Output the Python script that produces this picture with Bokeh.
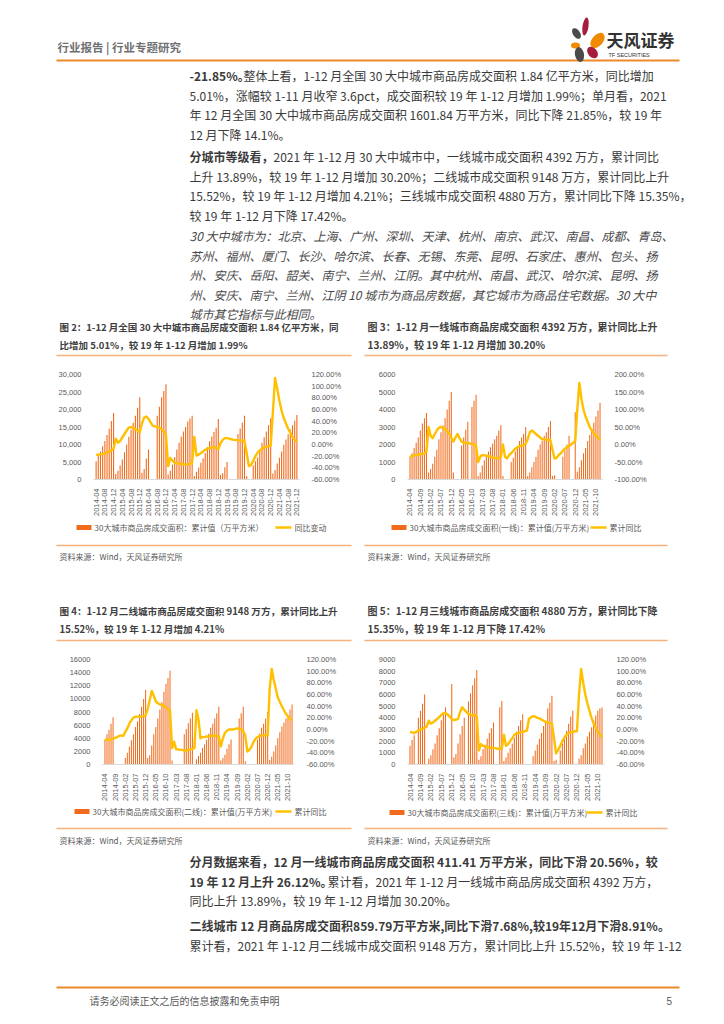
import math
from bokeh.plotting import figure
from bokeh.layouts import column, row
from bokeh.models import (Range1d, LinearAxis, FixedTicker, NumeralTickFormatter, CustomJSTickFormatter)
from bokeh.core.properties import value
from bokeh.embed import file_html
from bokeh.resources import INLINE

CJK = "Noto Sans CJK SC"
LAT = "Liberation Sans"

# ---------------- data ----------------
MONTHS = [f"{y}-{m:02d}" for y in range(2014, 2022) for m in range(1, 13)][3:]  # 2014-04 .. 2021-12

TICKS_4 = ["2014-04", "2014-08", "2014-12", "2015-04", "2015-08", "2015-12", "2016-04", "2016-08",
           "2016-12", "2017-04", "2017-08", "2017-12", "2018-04", "2018-08", "2018-12", "2019-04",
           "2019-08", "2019-12", "2020-04", "2020-08", "2020-12", "2021-04", "2021-08", "2021-12"]
TICKS_5 = ["2014-04", "2014-09", "2015-02", "2015-07", "2015-12", "2016-05", "2016-10", "2017-03",
           "2017-08", "2018-01", "2018-06", "2018-11", "2019-04", "2019-09", "2020-02", "2020-07",
           "2020-12", "2021-05", "2021-10"]

# Chart 2: 30 cities, cumulative area (万平方米) and YoY (%)
c2_bars = [
    [5200, 7000, 8000, 9500, 11000, 12700, 14500, 16700, 19000],
    [1600, 2500, 4000, 5700, 7800, 10000, 12200, 14200, 16200, 18200, 20500, 23500],
    [1900, 3000, 6000, 8600, None, None, None, 18200, 20800, 23500, 25300, 27200],
    [1400, 2500, 4300, 6400, 8600, 10500, 12200, 13700, 15000, 16600, 17400, 18200],
    [1000, 2200, 3400, 4800, 6100, 7600, 9300, 10900, 12300, 13600, 14800, 17300],
    [1300, 1800, 3500, 5000, None, None, None, None, 13000, 14600, 16200, 18200],
    [1000, None, None, 4000, 5200, 6300, 8600, 10500, 12100, 13700, 15500, 17500],
    [1700, 2700, 4600, 6200, 8000, 9900, 11400, 12900, 14300, 15500, 16800, 18400],
]
c2_yoy = [
    [-18, -17.5, -17, -16.5, -15.5, -14, -12, -10, -7],
    [10, 3, 6, 12, 18, 24, 29, 30, 28, 26, 24, 21],
    [36, 46, 48, 44, 38, 32, 31, 30, 29, 26, 22, 17],
    [-37, -23, -28, -31, -32, -33, -33, -34, -34, -35, -33, -31],
    [13, -19, -17, -15, -12, -9, -7, -6, -5, -4, -6, -8],
    [2, 8, 11, 11, 10, 9, 8, 8, 7, 7, 7, 6],
    [-15, -37, -35, -28, -20, -14, -10, -7, -5, -4, -3, -2],
    [55, 114, 95, 75, 58, 45, 36, 27, 20, 13, 8, 5],
]
# Chart 3: tier-1 cities
c3_bars = [
    [1300, 1500, 1800, 2100, 2400, 2800, 3200, 3500, 3800],
    [400, 600, 900, 1300, 1700, 2300, 2700, 3100, 3500, 4000, 4500, 5000],
    [400, None, None, None, 1950, 2400, 2850, 3300, None, 4150, 4500, 4850],
    [200, 400, 800, 1100, 1300, 1600, 1850, 2050, 2300, 2500, 2800, 3100],
    [200, None, None, None, 1000, 1250, 1600, 1900, 2200, 2400, 2600, 3000],
    [200, 400, 700, 1000, 1300, 1700, 2000, 2200, 2500, 2700, 3000, 3350],
    [200, 250, None, None, None, 1300, 1650, 2000, 2500, None, None, 3850],
    [450, 700, 1100, 1500, 1800, 2200, 2550, 2900, 3250, 3600, 3950, 4392],
]
c3_yoy = [
    [-35, -33, -31, -30, -29, -28, -27, -26, -20],
    [50, 25, 18, 30, 40, 48, 50, 47, 44, 38, 30, 20],
    [8, 20, 30, 18, 8, 5, 5, 4, 3, 2, 0, -5],
    [-50, -35, -30, -31, -32, -33, -35, -37, -38, -40, -38, -35],
    [0, -35, -40, -30, -25, -18, -12, -8, -5, -3, -2, 2],
    [15, 35, 40, 35, 30, 25, 20, 15, 15, 14, 13, 12],
    [-15, -40, -38, -30, -25, -18, -12, -8, -5, 0, 5, 10],
    [100, 176, 130, 100, 80, 65, 50, 40, 32, 25, 20, 14],
]
# Chart 4: tier-2 cities
c4_bars = [
    [3800, 4600, 5300, 6200, 7200, None, None, None, None],
    [None, 1000, 1800, 2700, 3700, 4600, 5700, 6600, 7700, 8800, 10000, 11400],
    [1000, 1400, 2900, 4600, 5700, 7000, 8400, 9500, 11100, 12300, 13200, 14300],
    [600, None, None, None, None, None, 4600, 5400, 6300, 7000, 7900, None],
    [800, 1300, 1800, 2500, 3100, 3800, 4700, 5600, 6200, 7000, 7800, 8800],
    [600, 1000, 1500, 2400, 3100, 3800, None, None, None, 7000, 7800, 8800],
    [500, None, None, None, None, None, 3800, 4700, 5600, 6200, 7000, 8000],
    [700, 1200, 2000, 2900, 4000, 4900, 5800, 6400, 7000, 7500, 8400, 9148],
]
c4_yoy = [
    [-17, -17.5, -18, -17, -15.5, -14.5, -13, -11, -10],
    [-11, -4, 2, 10, 16, 20, 22, 22, 22, 22, 23, 24],
    [35, 50, 66, 58, 48, 45, 43, 42, 41, 38, 35, 33],
    [-32, -21, -34, -34, -35, -35, -36, -36, -35, -34, -33, -32],
    [33, 17, -15, -13, -13, -12, -12, -11, -11, -10, -11, -12],
    [-29, -15, -6, -2, 0, 0, 0, 1, 2, 1, 0, -3],
    [-10, -38, -35, -30, -22, -16, -13, -11, -10, -10, -10, -10],
    [70, 104, 85, 70, 55, 47, 40, 33, 27, 22, 18, 16],
]
# Chart 5: tier-3 cities
c5_bars = [
    [1600, 2100, 2500, None, 4000, 4600, 5200, 6000, None],
    [500, 800, 1300, 1800, 2500, 3100, 3800, 4300, 4900, None, None, 6900],
    [600, 900, 1800, 2600, 3300, 4000, None, 5400, 6100, 6800, 7400, 8100],
    [400, 700, 1300, 1700, 2200, 2700, 3100, 3600, None, None, 4900, 5450],
    [300, 600, 1000, 1400, 1800, 2300, 2800, 3300, 3800, 4300, None, None],
    [None, None, 700, 1200, 1700, 2200, 2700, 3300, 3700, 4800, 5300, 5900],
    [300, 400, None, 1200, 1800, 2300, 2900, 3500, 4100, 4600, None, None],
    [500, 800, 1400, 1800, 2400, 2800, 3200, 3800, 4200, 4600, 4800, 4880],
]
c5_yoy = [
    [-4, -5, -6, -4, -2, 0, 1, 3, 5],
    [15, 10, 12, 15, 18, 21, 25, 28, 28, 26, 22, 18],
    [16, 17, 18, 30, 38, 34, 30, 27, 25, 24, 25, 22],
    [-36, -25, -28, -29, -30, -31, -31, -32, -32, -33, -33, -32],
    [-9, -28, -25, -20, -15, -9, -7, -6, -5, -4, -3, -2],
    [18, 21, 23, 22, 20, 19, 17, 15, 13, 12, 11, 10],
    [-15, -41, -35, -28, -20, -14, -9, -6, -5, -4, -3, -3],
    [60, 104, 80, 60, 45, 32, 20, 10, 3, -4, -9, -13],
]

LEG_BAR = ["30大城市商品房成交面积：累计值（万平方米）",
           "30大城市商品房成交面积(一线)：累计值(万平方米)",
           "30大城市商品房成交面积(二线)：累计值(万平方米)",
           "30大城市商品房成交面积(三线)：累计值(万平方米)"]
LEG_LINE = ["同比变动", "累计同比", "累计同比", "累计同比"]

TITLES = [
    ("图 2：1-12 月全国 30 大中城市商品房成交面积 1.84 亿平方米，同", "比增加 5.01%，较 19 年 1-12 月增加 1.99%"),
    ("图 3：1-12 月一线城市商品房成交面积 4392 万方，累计同比上升", "13.89%，较 19 年 1-12 月增加 30.20%"),
    ("图 4：1-12 月二线城市商品房成交面积 9148 万方，累计同比上升", "15.52%，较 19 年 1-12 月增加 4.21%"),
    ("图 5：1-12 月三线城市商品房成交面积 4880 万方，累计同比下降", "15.35%，较 19 年 1-12 月下降 17.42%"),
]
SOURCE = "资料来源：Wind，天风证券研究所"

# ---------------- styling ----------------
BAR_C = "#F26A1B"
LINE_C = "#FFC000"
RULE_C = "#F6B27C"
HEAD_C = "#EE8A2A"
TXT_C = "#3A3A3A"
AX_C = "#595959"
O = 1  # page origin


def strip(y0, y1):
    p = figure(width=708, height=y1 - y0, x_range=Range1d(O, O + 708), y_range=Range1d(y1, y0),
               min_border=0, toolbar_location=None, output_backend="svg",
               x_axis_location=None, y_axis_location=None, outline_line_color=None)
    p.grid.visible = False
    return p


def txt(p, x, y, s, size="12px", color=TXT_C, style="normal", font=CJK, align="left"):
    p.text(x=[x], y=[y], text=[s], text_font=value(font), text_font_size=size,
           text_color=color, text_font_style=style, text_baseline="middle", text_align=align)


def rule(p, x0, x1, y, color=RULE_C, w=1.5):
    p.line(x=[x0, x1], y=[y, y], line_color=color, line_width=w)


def legend(p, xs, xl, y, lab1, lab2):
    p.rect(x=[xs + 7.5], y=[y], width=15, height=5, fill_color=BAR_C, line_color=None)
    txt(p, xs + 18, y, lab1, size="8px", color=AX_C)
    p.line(x=[xl, xl + 16], y=[y, y], line_color=LINE_C, line_width=2.5)
    txt(p, xl + 19, y, lab2, size="8px", color=AX_C)


def chart(w, h, ml, mr, mt, mb, bars_y, yoy_y, lmax, lstep, lfmt, rmin, rmax, rstep, ticks):
    bars = sum(bars_y, [])
    yoy = sum(yoy_y, [])
    n = len(MONTHS)
    bx = [i for i, v in enumerate(bars) if v is not None]
    bt = [v for v in bars if v is not None]
    p = figure(width=w, height=h, x_range=Range1d(-1.2, n + 0.2), y_range=Range1d(0, lmax),
               min_border_left=ml, min_border_right=mr, min_border_top=mt, min_border_bottom=mb,
               toolbar_location=None, output_backend="svg", outline_line_color=None)
    p.extra_y_ranges = {"pct": Range1d(rmin, rmax)}
    p.vbar(x=bx, top=bt, width=0.5, fill_color=BAR_C, line_color=None)
    p.line(x=list(range(n)), y=yoy, y_range_name="pct", line_color=LINE_C,
           line_width=2.4, line_join="round")
    ra = LinearAxis(y_range_name="pct")
    p.add_layout(ra, "right")
    la = p.left[0]
    la.ticker = FixedTicker(ticks=list(range(0, lmax + 1, lstep)))
    la.formatter = NumeralTickFormatter(format=lfmt)
    ra.ticker = FixedTicker(ticks=list(range(rmin, rmax + 1, rstep)))
    ra.formatter = CustomJSTickFormatter(code="return tick.toFixed(2) + '%';")
    xa = p.below[0]
    tix = [MONTHS.index(t) for t in ticks]
    xa.ticker = FixedTicker(ticks=tix)
    xa.major_label_overrides = {i: MONTHS[i] for i in tix}
    xa.major_label_orientation = math.pi / 2
    xa.axis_line_color = "#D9D9D9"
    xa.major_label_standoff = 3
    for ax in (la, ra, xa):
        ax.major_tick_line_color = None
        ax.minor_tick_line_color = None
        ax.major_label_text_font = LAT
        ax.major_label_text_font_size = "7.5px"
        ax.major_label_text_color = AX_C
    for ax in (la, ra):
        ax.axis_line_color = None
        ax.major_label_standoff = 6
    p.grid.visible = False
    return p


# ---------------- top strip: header + text + titles of fig 2/3 ----------------
s1 = strip(O, 362)
txt(s1, 58, 47, "行业报告 | 行业专题研究", size="11.5px", color="#707070", style="bold")
rule(s1, 57, 680, 61, color=HEAD_C, w=2)
# logo petals
s1.ellipse(x=[577, 586, 598, 576, 580, 593], y=[34, 27, 41, 46, 55, 53],
           width=[7, 6, 11, 9, 9, 9], height=[12, 18, 18, 6, 15, 13],
           angle=[0.6, -0.15, -0.7, 0.0, 0.2, 0.7],
           fill_color=["#4A4A4A", "#A51D3C", "#F08A00", "#F08A00", "#4A4A4A", "#A51D3C"],
           line_color=None)
txt(s1, 607, 40, "天风证券", size="17px", color="#333333", style="bold")
txt(s1, 609, 55, "TF SECURITIES", size="5.5px", color="#333333", font=LAT)

X0 = 190
L = 19.5
y = 76
txt(s1, X0, y, "-21.85%。", style="bold")
txt(s1, X0 + 54, y, "整体上看，1-12 月全国 30 大中城市商品房成交面积 1.84 亿平方米，同比增加")
txt(s1, X0, y + L, "5.01%，涨幅较 1-11 月收窄 3.6pct，成交面积较 19 年 1-12 月增加 1.99%；单月看，2021")
txt(s1, X0, y + 2 * L, "年 12 月全国 30 大中城市商品房成交面积 1601.84 万平方米，同比下降 21.85%，较 19 年")
txt(s1, X0, y + 3 * L, "12 月下降 14.1%。")
y = 157
txt(s1, X0, y, "分城市等级看，", style="bold")
txt(s1, X0 + 84, y, "2021 年 1-12 月 30 大中城市中，一线城市成交面积 4392 万方，累计同比")
txt(s1, X0, y + L, "上升 13.89%，较 19 年 1-12 月增加 30.20%；二线城市成交面积 9148 万方，累计同比上升")
txt(s1, X0, y + 2 * L, "15.52%，较 19 年 1-12 月增加 4.21%；三线城市成交面积 4880 万方，累计同比下降 15.35%，")
txt(s1, X0, y + 3 * L, "较 19 年 1-12 月下降 17.42%。")
y = 236
ital = ["30 大中城市为：北京、上海、广州、深圳、天津、杭州、南京、武汉、南昌、成都、青岛、",
        "苏州、福州、厦门、长沙、哈尔滨、长春、无锡、东莞、昆明、石家庄、惠州、包头、扬",
        "州、安庆、岳阳、韶关、南宁、兰州、江阴。其中杭州、南昌、武汉、哈尔滨、昆明、扬",
        "州、安庆、南宁、兰州、江阴 10 城市为商品房数据，其它城市为商品住宅数据。30 大中",
        "城市其它指标与此相同。"]
for k, s in enumerate(ital):
    txt(s1, X0, y + k * L, s, style="italic", color="#4A4A4A")

for (a, b), x, fs in zip(TITLES[:2], (60, 368), ("9.5px", "10px")):
    txt(s1, x, 327, a, size=fs, color="#404040", style="bold")
    txt(s1, x, 345, b, size=fs, color="#404040", style="bold")
rule(s1, 57, 352, 356)
rule(s1, 365, 668, 356)

# ---------------- charts row 1 (figures start at x=1 and x=353) ----------------
c2 = chart(352, 158, 93, 53, 13, 36, c2_bars, c2_yoy, 30000, 5000, "0,0", -60, 120, 20, TICKS_4)
c3 = chart(356, 158, 55, 106, 12, 34, c3_bars, c3_yoy, 6000, 1000, "0", -100, 200, 50, TICKS_5)

# ---------------- middle strip ----------------
s2 = strip(520, 645)
legend(s2, 77, 276, 528, LEG_BAR[0], LEG_LINE[0])
legend(s2, 392, 591, 528, LEG_BAR[1], LEG_LINE[1])
rule(s2, 57, 352, 546)
rule(s2, 365, 668, 546)
txt(s2, 60, 557, SOURCE, size="8px", color=AX_C)
txt(s2, 368, 557, SOURCE, size="8px", color=AX_C)
for (a, b), x, fs in zip(TITLES[2:], (60, 368), ("9.6px", "10px")):
    txt(s2, x, 611, a, size=fs, color="#404040", style="bold")
    txt(s2, x, 629, b, size=fs, color="#404040", style="bold")
rule(s2, 57, 352, 641)
rule(s2, 365, 668, 641)

# ---------------- charts row 2 ----------------
c4 = chart(352, 160, 102, 58, 15, 34, c4_bars, c4_yoy, 16000, 2000, "0", -60, 120, 20, TICKS_5)
c5 = chart(356, 160, 55, 104, 15, 33, c5_bars, c5_yoy, 9000, 1000, "0", -60, 120, 20, TICKS_5)

# ---------------- bottom strip ----------------
s3 = strip(805, 1008)
legend(s3, 75, 276, 812, LEG_BAR[2], LEG_LINE[2])
legend(s3, 390, 587, 813, LEG_BAR[3], LEG_LINE[3])
rule(s3, 57, 352, 829)
rule(s3, 365, 668, 829)
txt(s3, 60, 841, SOURCE, size="8px", color=AX_C)
txt(s3, 368, 841, SOURCE, size="8px", color=AX_C)
y = 862
txt(s3, X0, y, "分月数据来看，12 月一线城市商品房成交面积 411.41 万平方米，同比下滑 20.56%，较", style="bold")
txt(s3, X0, y + L, "19 年 12 月上升 26.12%。", style="bold")
txt(s3, X0 + 138, y + L, "累计看，2021 年 1-12 月一线城市商品房成交面积 4392 万方，")
txt(s3, X0, y + 2 * L, "同比上升 13.89%，较 19 年 1-12 月增加 30.20%。")
y = 926
txt(s3, X0, y, "二线城市 12 月商品房成交面积859.79万平方米,同比下滑7.68%,较19年12月下滑8.91%。", style="bold")
txt(s3, X0, y + L, "累计看，2021 年 1-12 月二线城市成交面积 9148 万方，累计同比上升 15.52%，较 19 年 1-12")
rule(s3, 57, 680, 988, color=HEAD_C, w=2)
txt(s3, 90, 1001, "请务必阅读正文之后的信息披露和免责申明", size="10px", color=AX_C)
txt(s3, 667, 1001, "5", size="10px", color=AX_C, font=LAT)

layout = column(s1, row(c2, c3), s2, row(c4, c5), s3)
open("out.html", "w").write(file_html(layout, INLINE, title="行业专题研究"))
